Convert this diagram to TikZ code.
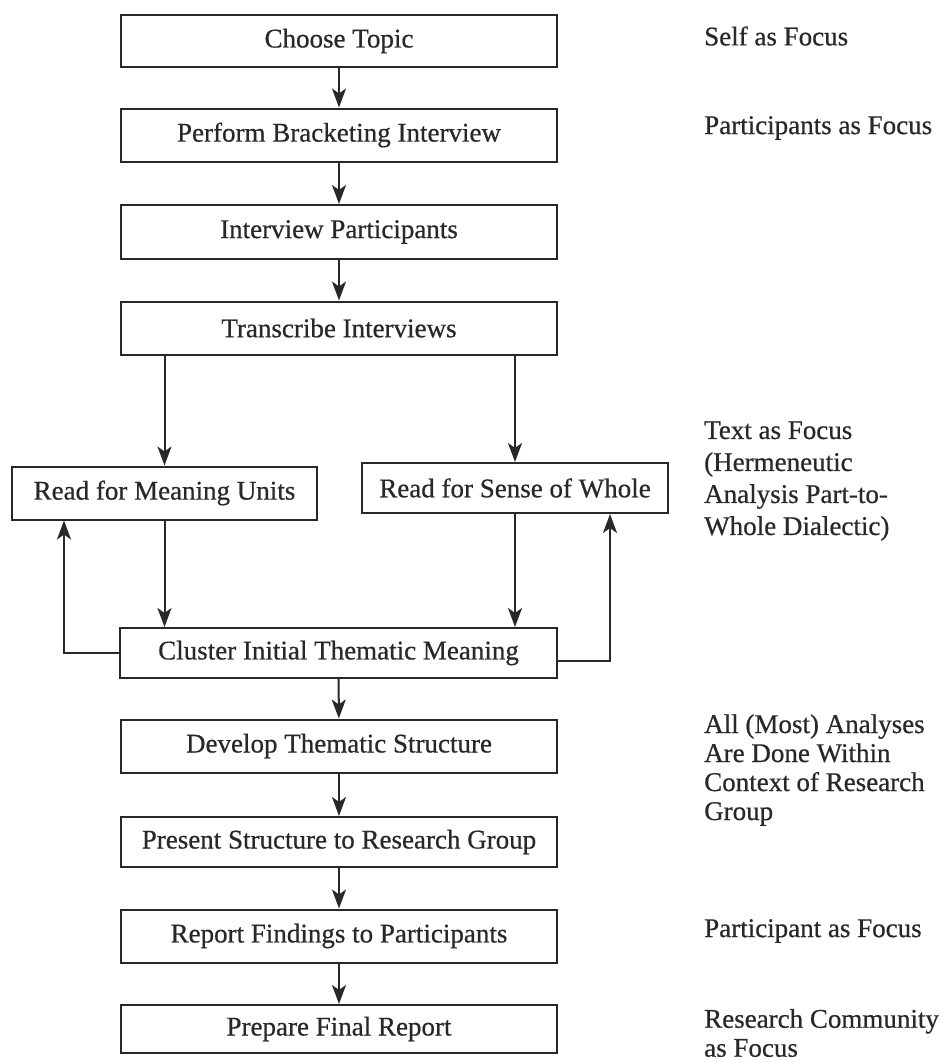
\documentclass[tikz,border=0pt]{standalone}
\usepackage{fontspec}
\setmainfont{Liberation Serif}[FakeBold=0.6]
\usetikzlibrary{arrows.meta}
\definecolor{ink}{RGB}{40,40,40}
\begin{document}
\begin{tikzpicture}[x=1pt,y=-1pt,
  every node/.style={font=\fontsize{27}{30}\selectfont, text=ink},
  box/.style={draw=ink, line width=2pt, minimum width=436pt, minimum height=52pt, inner sep=0pt},
  sidebox/.style={draw=ink, line width=2pt, minimum height=52pt, inner sep=0pt},
  lbl/.style={anchor=west, align=left, inner sep=0pt},
  arr/.style={draw=ink, line width=2pt, -{Stealth[length=19pt,width=14pt,inset=5pt]}}
]
\useasboundingbox (0,0) rectangle (945,1063);

\node[box, minimum height=52pt] (ct) at (339,41) {Choose Topic};
\node[box, minimum height=53pt] (pb) at (339,135) {Perform Bracketing Interview};
\node[box, minimum height=54pt] (ip) at (339,232) {Interview Participants};
\node[box, minimum height=53pt] (tr) at (339,328) {Transcribe Interviews};
\node[sidebox, minimum width=305pt, minimum height=53pt] (mu) at (164.5,493) {Read for Meaning Units};
\node[sidebox, minimum width=306pt, minimum height=50pt] (sw) at (515,488) {Read for Sense of Whole};
\node[box, minimum width=437pt, minimum height=50pt] (cl) at (338.5,653) {Cluster Initial Thematic Meaning};
\node[box, minimum height=53pt] (dv) at (339,746) {Develop Thematic Structure};
\node[box, minimum height=50pt] (ps) at (339,842) {Present Structure to Research Group};
\node[box, minimum height=53pt] (rf) at (339,936) {Report Findings to Participants};
\node[box, minimum height=48pt] (pf) at (339,1029) {Prepare Final Report};

\draw[arr] (ct) -- (pb);
\draw[arr] (pb) -- (ip);
\draw[arr] (ip) -- (tr);
\draw[arr] (tr.south -| mu.north) -- (mu.north);
\draw[arr] (tr.south -| sw.north) -- (sw.north);
\draw[arr] (mu.south) -- (mu.south |- cl.north);
\draw[arr] (sw.south) -- (sw.south |- cl.north);
\draw[arr] (cl.west) -| ([xshift=53pt]mu.south west);
\draw[arr] ([yshift=-8pt]cl.east) -| ([xshift=95pt]sw.south);
\draw[arr] (cl) -- (dv);
\draw[arr] (dv) -- (ps);
\draw[arr] (ps) -- (rf);
\draw[arr] (rf) -- (pf);

\node[lbl] (l1) at (704,36) {Self as Focus};
\node[lbl] (l2) at (704,128) {Participants as Focus};
\node[lbl, font=\fontsize{27}{32}\selectfont] (l3) at (704,481) {Text as Focus\\(Hermeneutic\\Analysis Part-to-\\Whole Dialectic)};
\node[lbl, font=\fontsize{27}{29}\selectfont] (l4) at (704,770) {All (Most) Analyses\\Are Done Within\\Context of Research\\Group};
\node[lbl] (l5) at (704,931) {Participant as Focus};
\node[lbl, font=\fontsize{27}{29}\selectfont] (l6) at (704,1033) {Research Community\\as Focus};
\end{tikzpicture}
\end{document}
